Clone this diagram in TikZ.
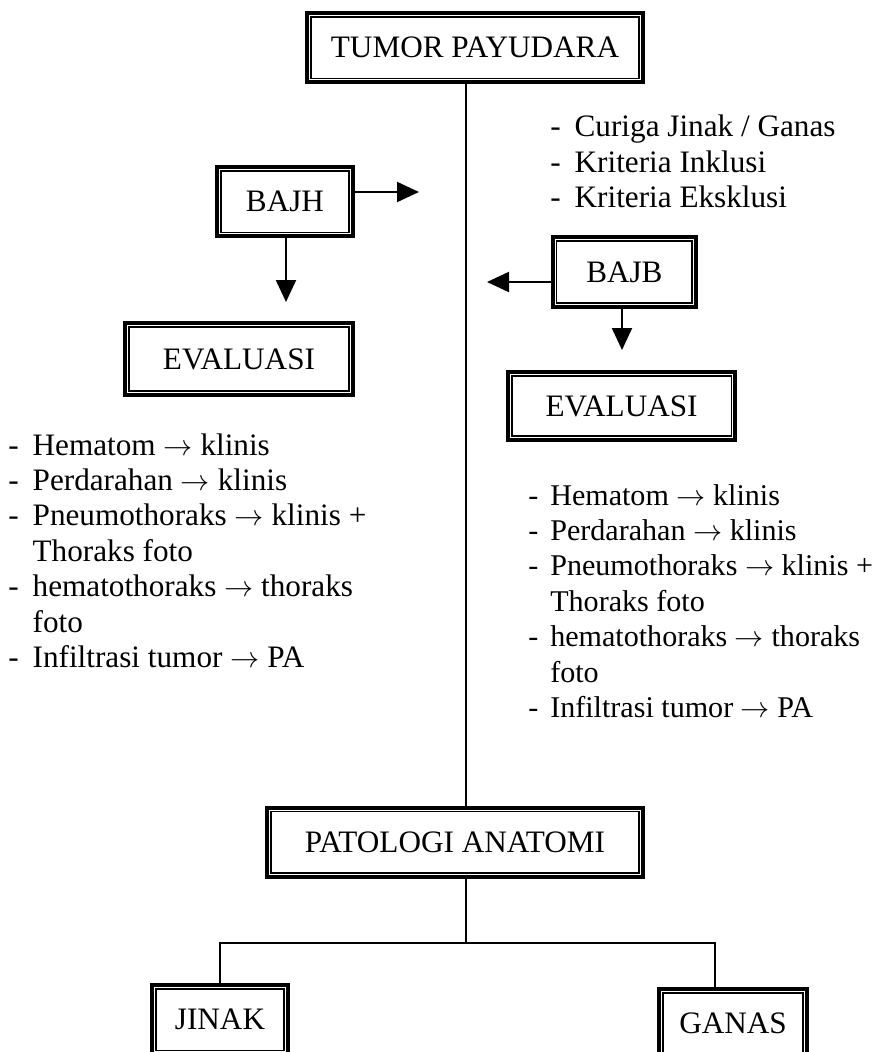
\documentclass[tikz,border=0pt]{standalone}
\usepackage{fontspec}
\setmainfont{Liberation Serif}
\usetikzlibrary{arrows.meta,positioning}
\newcommand{\toarrow}{$\mathord{\rightarrow}$}

\begin{document}
\begin{tikzpicture}
 \tikzset{
box/.style = {draw=black, line width=2.4pt, minimum height=1.725cm, inner sep=0pt, font=\fontsize{22.2}{25.2}\selectfont},
list/.style = {anchor=base west, inner sep=0pt, font=\fontsize{22.2}{25.2}\selectfont},
link/.style = {line width=1.5pt},
arr/.style = {line width=1.5pt, -{Triangle[length=0.55cm,width=0.5cm]}}}

    \useasboundingbox (0,0) rectangle (21.95,-26.3);

     \node [box, minimum width=8.4cm] (tumor) at (11.875,-1.19) {TUMOR PAYUDARA};
     \node [box, minimum width=3.4cm] (bajh) at (7.125,-5.04) {BAJH};
     \node [box, minimum width=3.575cm, minimum height=1.75cm] (bajb) at (15.61,-6.8) {BAJB};
     \node [box, minimum width=5.7cm, minimum height=1.8cm] (evalL) at (5.975,-8.975) {EVALUASI};
     \node [box, minimum width=5.675cm, minimum height=1.7cm] (evalR) at (15.54,-10.15) {EVALUASI};
     \node [box, minimum width=9.4cm] (pa) at (11.375,-21.06) {PATOLOGI ANATOMI};
     \node [box, minimum width=3.4cm] (jinak) at (5.5,-25.49) {JINAK};
     \node [box, minimum width=3.7cm] (ganas) at (18.325,-25.59) {GANAS};

     % inner frame of every box
     \foreach \n in {tumor,bajh,bajb,evalL,evalR,pa,jinak,ganas}
       \draw [line width=0.9pt] ([shift={(0.14,-0.14)}]\n.north west) rectangle ([shift={(-0.14,0.14)}]\n.south east);

     \node [list] (crit) at (13.75,-3.425) {\begin{tabular}[t]{@{}l@{\hspace{0.35cm}}l@{}}
       - & Curiga Jinak / Ganas\\
       - & Kriteria Inklusi\\
       - & Kriteria Eksklusi
     \end{tabular}};

     \node [list] (compL) at (0.2,-11.375) {\begin{tabular}[t]{@{}l@{\hspace{0.35cm}}l@{}}
       - & Hematom \toarrow{} klinis\\
       - & Perdarahan \toarrow{} klinis\\
       - & Pneumothoraks \toarrow{} klinis +\\
         & Thoraks foto\\
       - & hematothoraks \toarrow{} thoraks\\
         & foto\\
       - & Infiltrasi tumor \toarrow{} PA
     \end{tabular}};

     \node [list, font=\fontsize{21.4}{25.2}\selectfont] (compR) at (13.2,-12.625) {\begin{tabular}[t]{@{}l@{\hspace{0.3cm}}l@{}}
       - & Hematom \toarrow{} klinis\\
       - & Perdarahan \toarrow{} klinis\\
       - & Pneumothoraks \toarrow{} klinis +\\
         & Thoraks foto\\
       - & hematothoraks \toarrow{} thoraks\\
         & foto\\
       - & Infiltrasi tumor \toarrow{} PA
     \end{tabular}};

      \coordinate (spine) at (11.65,-12);
      \coordinate (split) at (11.65,-23.575);
      \coordinate (gline) at (17.875,-23.575);
      \coordinate (bajhtip) at (10.475,-4.8);
      \coordinate (bajhdown) at (7.15,-7.55);
      \coordinate (bajbtip) at (12.175,-7.05);
      \coordinate (bajbdown) at (15.55,-8.75);

      \draw [link] (tumor.south -| spine) -- (pa.north -| spine);
      \draw [link] (pa.south -| spine) -- (split);
      \draw [link] (jinak.north) |- (gline) -- (ganas.north -| gline);

      \draw [arr] (bajh.east |- bajhtip) -- (bajhtip);
      \draw [arr] (bajh.south -| bajhdown) -- (bajhdown);
      \draw [arr] (bajb.west |- bajbtip) -- (bajbtip);
      \draw [arr] (bajb.south -| bajbdown) -- (bajbdown);

  \end{tikzpicture}
\end{document}
